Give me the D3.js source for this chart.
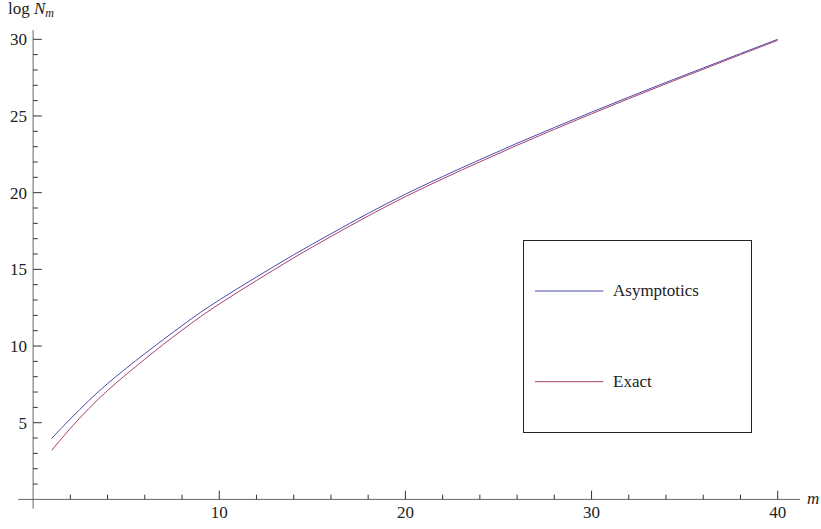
<!DOCTYPE html>
<html lang="en">
<head>
    <meta charset="UTF-8">
    <title>log N_m</title>
    <script src="https://d3js.org/d3.v7.min.js"></script>
    <style>
        body { margin: 0; background: #fff; }
        svg text { font-family: "Liberation Serif", "DejaVu Serif", serif; fill: #222; }
        .axis-line { stroke: #666; stroke-width: 1px; }
        .tick { stroke: #333; stroke-width: 1px; }
        .curve { fill: none; stroke-width: 1px; }
    </style>
</head>
<body>
    <svg width="821" height="529"></svg>
    <script>
        // values
        const mValues = [1, 2, 3, 4, 5, 6, 7, 8, 9, 10, 12, 14, 16, 18, 20, 22, 24, 26, 28, 30, 32, 34, 36, 38, 40];
        const asymptotics = [3.98, 5.25, 6.45, 7.55, 8.55, 9.5, 10.43, 11.33, 12.2, 13.0, 14.5, 15.95, 17.32, 18.65, 19.9, 21.05, 22.15, 23.22, 24.25, 25.25, 26.23, 27.19, 28.13, 29.07, 30.0];
        const exact = [3.2, 4.63, 5.93, 7.1, 8.15, 9.14, 10.11, 11.03, 11.92, 12.74, 14.27, 15.75, 17.14, 18.48, 19.74, 20.9, 22.01, 23.09, 24.13, 25.14, 26.13, 27.1, 28.05, 29.0, 29.93];
        const seriesNames = ["Asymptotics", "Exact"];
        const seriesColors = ["#4b4bb0", "#a8406e"];
        const xMajor = [10, 20, 30, 40];
        const yMajor = [5, 10, 15, 20, 25, 30];

        const serif = "'Liberation Serif', 'DejaVu Serif', serif";
        const svg = d3.select("svg");

        const x = d3.scaleLinear().domain([0, 40]).range([33.1, 777.7]);
        const y = d3.scaleLinear().domain([0, 30]).range([499.4, 39.3]);

        // axis lines
        svg.append("line").attr("class", "axis-line")
            .attr("x1", x(-0.8)).attr("x2", x(41.2))
            .attr("y1", y(0)).attr("y2", y(0));
        svg.append("line").attr("class", "axis-line")
            .attr("x1", x(0)).attr("x2", x(0))
            .attr("y1", y(-0.6)).attr("y2", y(30.6));

        // x ticks
        const xMinor = d3.range(2, 41, 2).filter(v => v % 10 !== 0);
        svg.selectAll(".xminor").data(xMinor).enter().append("line")
            .attr("class", "tick")
            .attr("x1", d => x(d)).attr("x2", d => x(d))
            .attr("y1", y(0)).attr("y2", y(0) - 4.7);
        svg.selectAll(".xmajor").data(xMajor).enter().append("line")
            .attr("class", "tick")
            .attr("x1", d => x(d)).attr("x2", d => x(d))
            .attr("y1", y(0)).attr("y2", y(0) - 8.7);
        svg.selectAll(".xlabel").data(xMajor).enter().append("text")
            .attr("x", d => x(d)).attr("y", 518)
            .attr("text-anchor", "middle")
            .attr("font-family", serif)
            .attr("font-size", 17)
            .text(d => d);

        // y ticks
        const yMinor = d3.range(1, 31).filter(v => v % 5 !== 0);
        svg.selectAll(".yminor").data(yMinor).enter().append("line")
            .attr("class", "tick")
            .attr("x1", x(0)).attr("x2", x(0) + 4.7)
            .attr("y1", d => y(d)).attr("y2", d => y(d));
        svg.selectAll(".ymajor").data(yMajor).enter().append("line")
            .attr("class", "tick")
            .attr("x1", x(0)).attr("x2", x(0) + 8.7)
            .attr("y1", d => y(d)).attr("y2", d => y(d));
        svg.selectAll(".ylabel").data(yMajor).enter().append("text")
            .attr("x", 27).attr("y", d => y(d))
            .attr("dy", "0.35em")
            .attr("text-anchor", "end")
            .attr("font-family", serif)
            .attr("font-size", 17)
            .text(d => d);

        // axis labels
        const yl = svg.append("text").attr("x", 8).attr("y", 14)
            .attr("font-family", serif).attr("font-size", 17);
        yl.append("tspan").text("log ");
        yl.append("tspan").attr("font-style", "italic").text("N");
        yl.append("tspan").attr("font-style", "italic").attr("font-size", 12).attr("dy", 3).text("m");
        svg.append("text").attr("x", 807).attr("y", 504)
            .attr("font-family", serif)
            .attr("font-size", 17).attr("font-style", "italic").text("m");

        // curves
        const line = d3.line()
            .x((d, i) => x(mValues[i]))
            .y(d => y(d))
            .curve(d3.curveMonotoneX);
        [asymptotics, exact].forEach((vals, k) => {
            svg.append("path").attr("class", "curve")
                .attr("d", line(vals))
                .attr("stroke", seriesColors[k]);
        });

        // legend
        const legend = svg.append("g");
        legend.append("rect")
            .attr("x", 523.5).attr("y", 240.5)
            .attr("width", 228).attr("height", 192)
            .attr("fill", "#fff").attr("stroke", "#222");
        const rowY = [291, 381.7];
        seriesNames.forEach((name, k) => {
            legend.append("line")
                .attr("x1", 535).attr("x2", 603.3)
                .attr("y1", rowY[k]).attr("y2", rowY[k])
                .attr("stroke", seriesColors[k]);
            legend.append("text")
                .attr("x", 613).attr("y", rowY[k] + 5)
                .attr("font-family", serif)
                .attr("font-size", 17)
                .text(name);
        });
    </script>
</body>
</html>
